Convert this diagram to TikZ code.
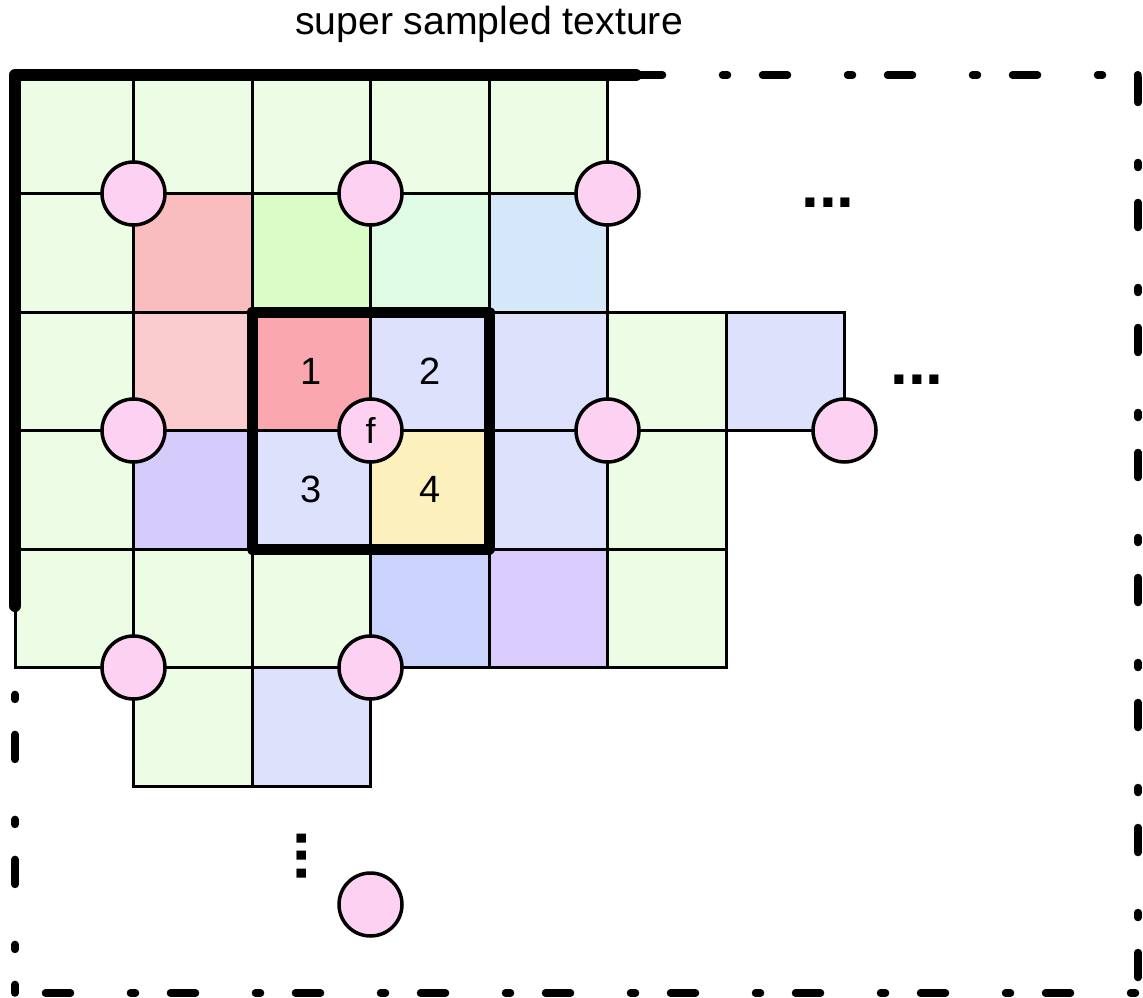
\documentclass[tikz,border=0pt]{standalone}
\usepackage{fontspec}
\setmainfont{Liberation Sans}
\definecolor{cgreen}{HTML}{EDFCE5}
\definecolor{cpinkred}{HTML}{F9BDC0}
\definecolor{cbgreen}{HTML}{DAFCC6}
\definecolor{cmint}{HTML}{DFFBE5}
\definecolor{cltblue}{HTML}{D4E8FA}
\definecolor{cltpink}{HTML}{FBCCCF}
\definecolor{cred}{HTML}{FBA7AF}
\definecolor{clav}{HTML}{DEE1FC}
\definecolor{cpurple}{HTML}{D6CCFB}
\definecolor{cyellow}{HTML}{FCF0BD}
\definecolor{cblue}{HTML}{C9D3FC}
\definecolor{cpurpleb}{HTML}{D9CCFC}
\definecolor{cdot}{HTML}{FDD1F1}
\begin{document}
\begin{tikzpicture}[x=118.5pt,y=-118.5pt,
  cellbox/.style={draw=black,line width=3pt},
  dashbdr/.style={line width=7.5pt,line cap=round,dash pattern=on 5pt off 35pt on 25pt off 60pt},
  sample/.style={circle,draw=black,fill=cdot,line width=3.5pt,minimum size=63pt,inner sep=0pt},
  lbl/.style={font=\fontsize{38}{46}\selectfont,inner sep=0pt},
  more/.style={font=\bfseries\fontsize{64}{70}\selectfont,inner sep=0pt,anchor=base}]
\useasboundingbox (-0.12658,-0.63291) rectangle (9.51899,7.78903);
% cells
\foreach \c/\r/\col in {0/0/cgreen,1/0/cgreen,2/0/cgreen,3/0/cgreen,4/0/cgreen,
  0/1/cgreen,1/1/cpinkred,2/1/cbgreen,3/1/cmint,4/1/cltblue,
  0/2/cgreen,1/2/cltpink,2/2/cred,3/2/clav,4/2/clav,5/2/cgreen,6/2/clav,
  0/3/cgreen,1/3/cpurple,2/3/clav,3/3/cyellow,4/3/clav,5/3/cgreen,
  0/4/cgreen,1/4/cgreen,2/4/cgreen,3/4/cblue,4/4/cpurpleb,5/4/cgreen,
  1/5/cgreen,2/5/clav}
  \draw[cellbox,fill=\col] (\c,\r) rectangle ++(1,1);
% dashed outer border
\coordinate (tl) at (0,0);
\coordinate (tr) at (9.477,0);
\coordinate (bl) at (0,7.747);
\coordinate (br) at (9.477,7.747);
\coordinate (lm) at (0,5.05);
\draw[dashbdr,dash phase=42.5pt] (tl) -- (tr);
\draw[dashbdr,dash phase=37.5pt] (tr) -- (br);
\draw[dashbdr,dash phase=9.5pt] (bl) -- (br);
\draw[dashbdr,dash phase=104pt] (lm) -- (bl);
% thick corner
\coordinate (le) at (0,4.481);
\coordinate (te) at (5.24,0);
\draw[line width=12pt,line cap=round,line join=round] (le) -- (tl) -- (te);
% bold 2x2 footprint
\draw[line width=11pt,line join=round] (2,2) rectangle (4,4);
% numbers
\node[lbl] (n1) at (2.5,2.5) {1};
\node[lbl] (n2) at (3.5,2.5) {2};
\node[lbl] (n3) at (2.5,3.5) {3};
\node[lbl] (n4) at (3.5,3.5) {4};
% sample points
\node[sample] (s11) at (1,1) {};
\node[sample] (s31) at (3,1) {};
\node[sample] (s51) at (5,1) {};
\node[sample] (s13) at (1,3) {};
\node[sample,font=\fontsize{36}{44}\selectfont] (f) at (3,3) {f};
\node[sample] (s53) at (5,3) {};
\node[sample] (s73) at (7,3) {};
\node[sample] (s15) at (1,5) {};
\node[sample] (s35) at (3,5) {};
\node[sample] (s37) at (3,7) {};
% title
\node[lbl,anchor=base,font=\fontsize{39.2}{46}\selectfont] (title) at (3.9997,-0.3376) {super sampled texture};
% ellipses
\node[more] (m1) at (6.861,1.114) {...};
\node[more] (m2) at (7.612,2.608) {...};
\node[more,rotate=90] (m3) at (2.464,6.59) {...};
\end{tikzpicture}
\end{document}
